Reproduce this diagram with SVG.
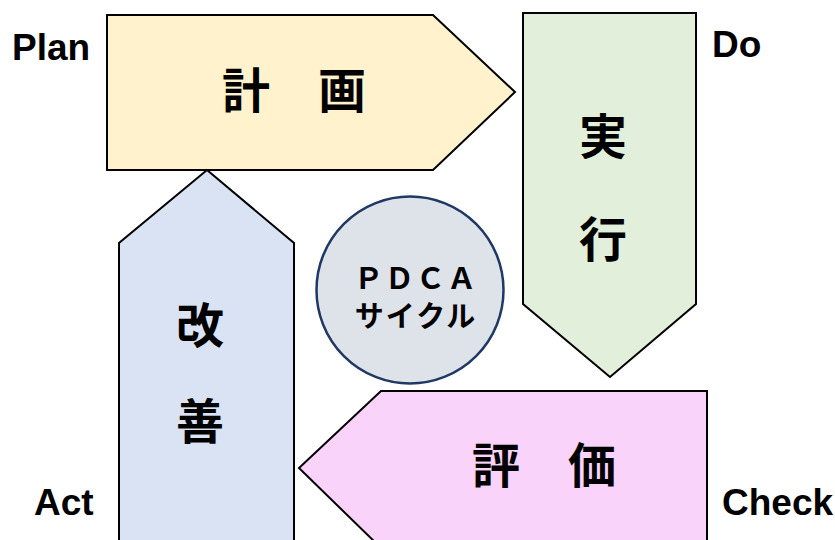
<svg xmlns="http://www.w3.org/2000/svg" width="835" height="540" viewBox="0 0 835 540">
<style>
.shape{stroke:#000;stroke-width:2;stroke-linejoin:miter}
.kanji{font-family:"Noto Sans CJK JP","Noto Sans CJK SC",sans-serif;font-weight:bold;font-size:48px;fill:#000;text-anchor:middle}
.lbl{font-family:"Liberation Sans",Arial,sans-serif;font-weight:bold;font-size:37px;fill:#000}
.ctr{font-family:"Noto Sans CJK JP","Noto Sans CJK SC",sans-serif;font-weight:bold;font-size:29px;fill:#000;text-anchor:middle;letter-spacing:2px}
</style>
<rect width="835" height="540" fill="#fff"/>
<g id="connectors"></g>
<g id="plan">
<polygon class="shape" fill="#FFF2CC" points="107,15 433,15 515,92 433,170 107,170"/>
<text class="kanji" x="294" y="108">計　画</text>
<text class="lbl" x="12" y="60">Plan</text>
</g>
<g id="do">
<polygon class="shape" fill="#E2EFDA" points="523,13 696,13 696,304 610,377 523,304"/>
<text class="kanji" x="603" y="154">実</text>
<text class="kanji" x="603" y="257">行</text>
<text class="lbl" x="712" y="57">Do</text>
</g>
<g id="check">
<polygon class="shape" fill="#F9D3F9" points="707,391 707,548 381,548 299,468 381,391"/>
<text class="kanji" x="544" y="483">評　価</text>
<text class="lbl" x="722" y="515">Check</text>
</g>
<g id="act">
<polygon class="shape" fill="#DAE3F3" points="207,170 294,243 294,548 119,548 119,243"/>
<text class="kanji" x="200" y="343">改</text>
<text class="kanji" x="200" y="439">善</text>
<text class="lbl" x="34" y="515">Act</text>
</g>
<g id="pdca">
<circle cx="410" cy="290" r="93.5" fill="#DEE3EA" stroke="#1F3864" stroke-width="2.5"/>
<text class="ctr" x="416" y="289">ＰＤＣＡ</text>
<text class="ctr" x="416" y="327">サイクル</text>
</g>
</svg>
